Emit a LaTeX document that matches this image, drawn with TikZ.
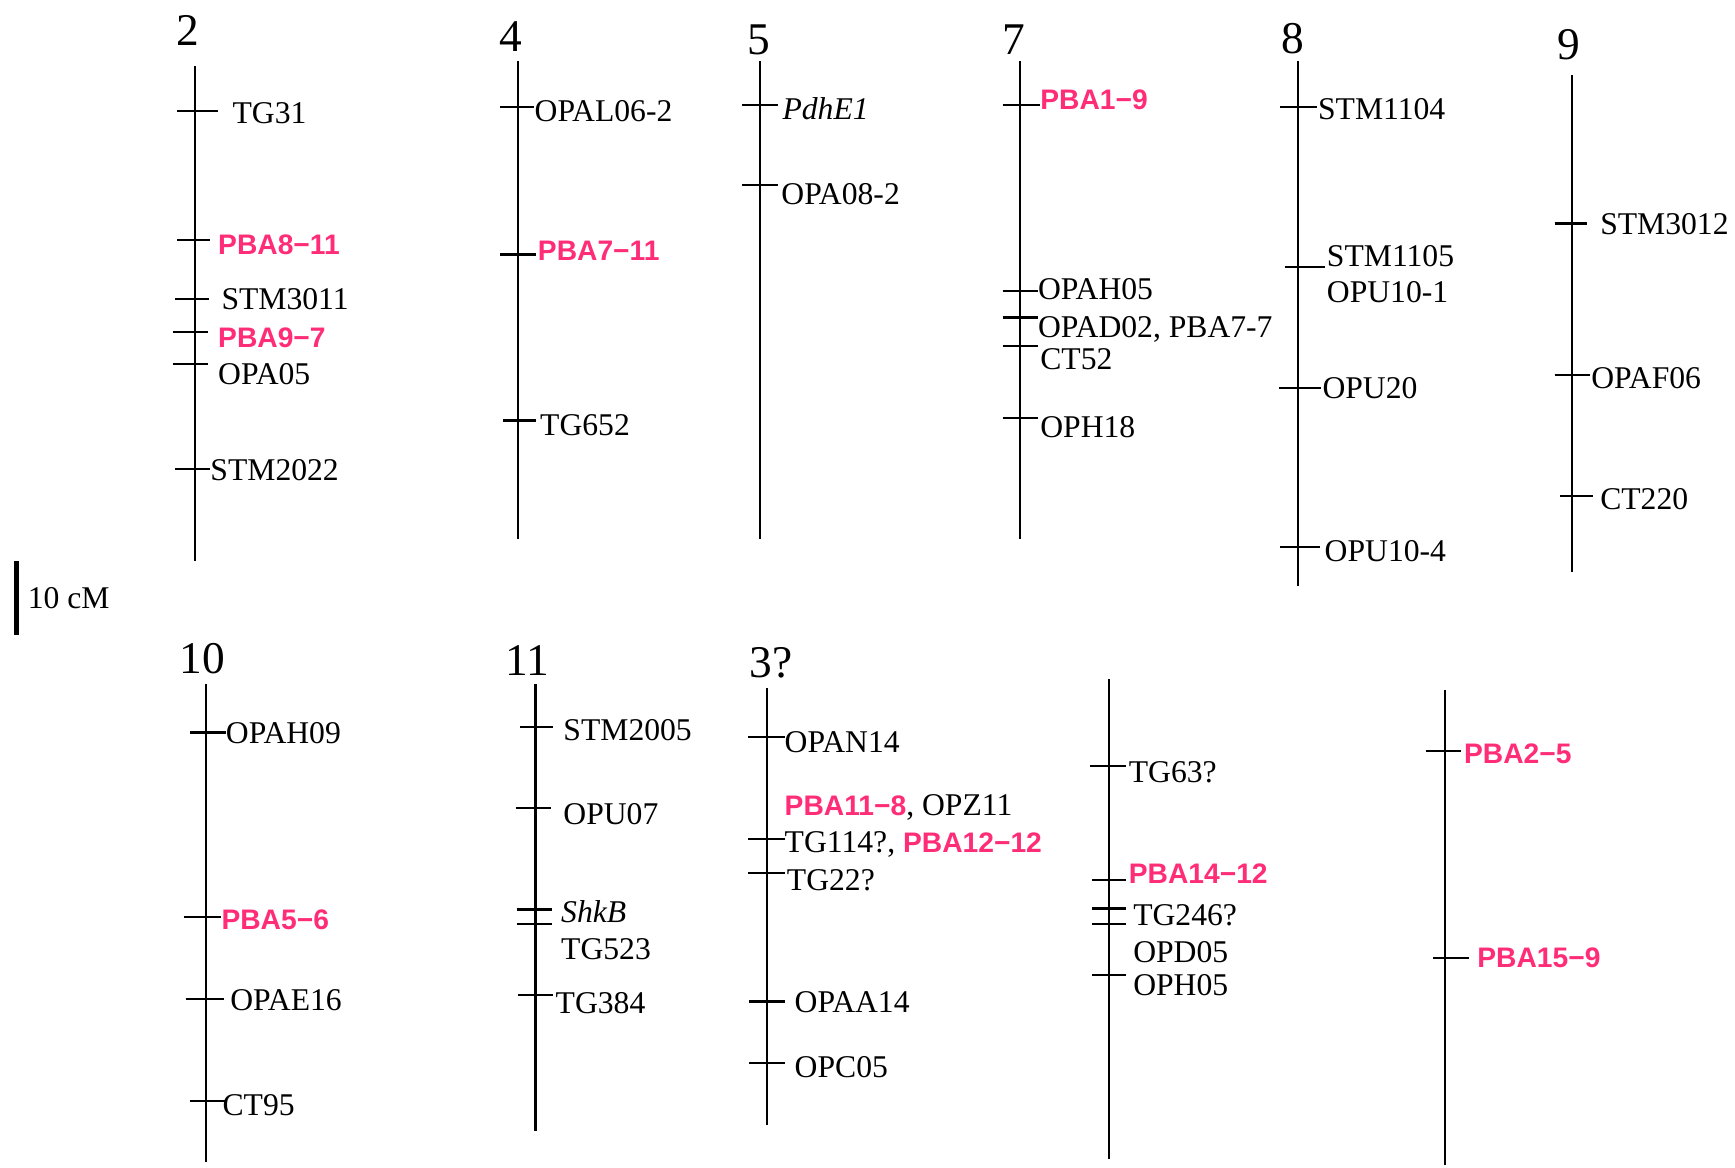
\documentclass[tikz,border=0pt]{standalone}
\usepackage{fontspec}
\setmainfont{Liberation Serif}
\newfontfamily\pkfont{Liberation Sans}
\definecolor{pbapink}{RGB}{255,45,120}
\newcommand\pba[1]{{\pkfont\bfseries\fontsize{25.5}{27}\selectfont\color{pbapink}#1}}
\newcommand\mkchrom[4]{\coordinate (#1-t) at (#2,#3); \coordinate (#1-b) at (#2,#4); \draw[chromline] (#1-t) -- (#1-b);}
\newcommand\mktick[4]{\coordinate (#1-l) at (#2,#4); \coordinate (#1-r) at (#3,#4); \draw[tickline] (#1-l) -- (#1-r);}
\begin{document}
\begin{tikzpicture}[x=1pt,y=-1pt,
 chromline/.style={line width=2pt},
 tickline/.style={line width=2pt},
 lbl/.style={anchor=west,inner sep=0pt,yshift=-5.5pt,font=\fontsize{28.6}{30}\selectfont,text height=0.66em,text depth=0pt},
 num/.style={inner sep=0pt,yshift=-8pt,font=\fontsize{41}{43}\selectfont,text height=0.68em,text depth=0pt}]
\useasboundingbox (0,0) rectangle (1568,1055);

% ---------- chromosome 2
\node[num] (n2) at (170,30) {2};
\mkchrom{c2}{176}{60}{507}
\mktick{c2a}{160}{197}{100}
\mktick{c2b}{160}{190}{217}
\mktick{c2c}{158}{189}{270}
\mktick{c2d}{156}{188}{300}
\mktick{c2e}{156}{188}{329}
\mktick{c2f}{158}{190}{424}
\node[lbl] (l2a) at (210,103) {TG31};
\node[lbl] (l2b) at (197,221) {\pba{PBA8−11}};
\node[lbl] (l2c) at (200,271) {STM3011};
\node[lbl] (l2d) at (197,305) {\pba{PBA9−7}};
\node[lbl] (l2e) at (197,339) {OPA05};
\node[lbl] (l2f) at (190,425) {STM2022};

% ---------- chromosome 4
\node[num] (n4) at (462,35) {4};
\mkchrom{c4}{468}{55}{487}
\mktick{c4a}{452}{483}{97}
\mktick{c4b}{452}{484}{230}
\mktick{c4c}{455}{484}{380}
\node[lbl] (l4a) at (483,101) {OPAL06-2};
\node[lbl] (l4b) at (486,227) {\pba{PBA7−11}};
\node[lbl] (l4c) at (488,385) {TG652};

% ---------- chromosome 5
\node[num] (n5) at (686,38) {5};
\mkchrom{c5}{687}{55}{487}
\mktick{c5a}{671}{703}{95}
\mktick{c5b}{671}{703}{167}
\node[lbl] (l5a) at (707,99) {\itshape PdhE1};
\node[lbl] (l5b) at (706,176) {OPA08-2};

% ---------- chromosome 7
\node[num] (n7) at (916,38) {7};
\mkchrom{c7}{922}{55}{487}
\mktick{c7a}{906}{940}{95}
\mktick{c7b}{906}{938}{263}
\mktick{c7c}{906}{938}{287}
\mktick{c7d}{906}{938}{313}
\mktick{c7e}{906}{938}{378}
\node[lbl] (l7a) at (940,90) {\pba{PBA1−9}};
\node[lbl] (l7b) at (938,262) {OPAH05};
\node[lbl] (l7c) at (938,296) {OPAD02, PBA7-7};
\node[lbl] (l7d) at (940,325) {CT52};
\node[lbl] (l7e) at (940,387) {OPH18};

% ---------- chromosome 8
\node[num] (n8) at (1168,37) {8};
\mkchrom{c8}{1173}{55}{530}
\mktick{c8a}{1157}{1190}{97}
\mktick{c8b}{1161}{1197}{241}
\mktick{c8c}{1156}{1194}{351}
\mktick{c8d}{1157}{1193}{494}
\node[lbl] (l8a) at (1191,99) {STM1104};
\node[lbl] (l8b) at (1199,232) {STM1105};
\node[lbl] (l8c) at (1199,265) {OPU10-1};
\node[lbl] (l8d) at (1195,351) {OPU20};
\node[lbl] (l8e) at (1197,499) {OPU10-4};

% ---------- chromosome 9
\node[num] (n9) at (1418,42) {9};
\mkchrom{c9}{1421}{68}{517}
\mktick{c9a}{1405}{1434}{202}
\mktick{c9b}{1405}{1437}{339}
\mktick{c9c}{1410}{1440}{448}
\node[lbl] (l9a) at (1446,203) {STM3012};
\node[lbl] (l9b) at (1438,342) {OPAF06};
\node[lbl] (l9c) at (1446,452) {CT220};

% ---------- scale bar
\coordinate (sb-t) at (15,507);
\coordinate (sb-b) at (15,574);
\draw[line width=4pt] (sb-t) -- (sb-b);
\node[lbl] (lsb) at (25,541) {10 cM};

% ---------- chromosome 10
\node[num] (n10) at (183,597) {10};
\mkchrom{c10}{186}{618}{1050}
\mktick{c10a}{172}{204}{662}
\mktick{c10b}{166}{200}{829}
\mktick{c10c}{168}{202}{903}
\mktick{c10d}{172}{203}{995}
\node[lbl] (l10a) at (204,663) {OPAH09};
\node[lbl] (l10b) at (200,831) {\pba{PBA5−6}};
\node[lbl] (l10c) at (208,904) {OPAE16};
\node[lbl] (l10d) at (201,999) {CT95};

% ---------- chromosome 11
\node[num] (n11) at (477,599) {11};
\mkchrom{c11}{484}{618}{1022}
\mktick{c11a}{470}{500}{657}
\mktick{c11b}{466}{498}{730}
\mktick{c11c}{467}{499}{822}
\mktick{c11d}{467}{499}{835}
\mktick{c11e}{468}{500}{899}
\node[lbl] (l11a) at (509,660) {STM2005};
\node[lbl] (l11b) at (509,736) {OPU07};
\node[lbl] (l11c) at (507,825) {\itshape ShkB};
\node[lbl] (l11d) at (507,858) {TG523};
\node[lbl] (l11e) at (502,907) {TG384};

% ---------- chromosome 3?
\node[num] (n3) at (697,601) {3?};
\mkchrom{c3}{693}{622}{1017}
\mktick{c3a}{676}{709}{666}
\mktick{c3b}{676}{709}{758}
\mktick{c3c}{676}{709}{789}
\mktick{c3d}{677}{709}{905}
\mktick{c3e}{677}{709}{961}
\node[lbl] (l3a) at (709,671) {OPAN14};
\node[lbl] (l3b) at (709,728) {\pba{PBA11−8}, OPZ11};
\node[lbl] (l3c) at (709,762) {TG114?, \pba{PBA12−12}};
\node[lbl] (l3d) at (711,796) {TG22?};
\node[lbl] (l3e) at (718,906) {OPAA14};
\node[lbl] (l3f) at (718,965) {OPC05};

% ---------- unnamed linkage group A
\mkchrom{ca}{1002}{614}{1047}
\mktick{caa}{985}{1018}{692}
\mktick{cab}{987}{1018}{795}
\mktick{cac}{987}{1018}{821}
\mktick{cad}{987}{1018}{835}
\mktick{cae}{987}{1018}{881}
\node[lbl] (laa) at (1020,698) {TG63?};
\node[lbl] (lab) at (1020,790) {\pba{PBA14−12}};
\node[lbl] (lac) at (1024,828) {TG246?};
\node[lbl] (lad) at (1024,861) {OPD05};
\node[lbl] (lae) at (1024,891) {OPH05};

% ---------- unnamed linkage group B
\mkchrom{cb}{1306}{624}{1053}
\mktick{cba}{1289}{1320}{679}
\mktick{cbb}{1295}{1328}{866}
\node[lbl] (lba) at (1323,681) {\pba{PBA2−5}};
\node[lbl] (lbb) at (1335,866) {\pba{PBA15−9}};
\end{tikzpicture}
\end{document}
